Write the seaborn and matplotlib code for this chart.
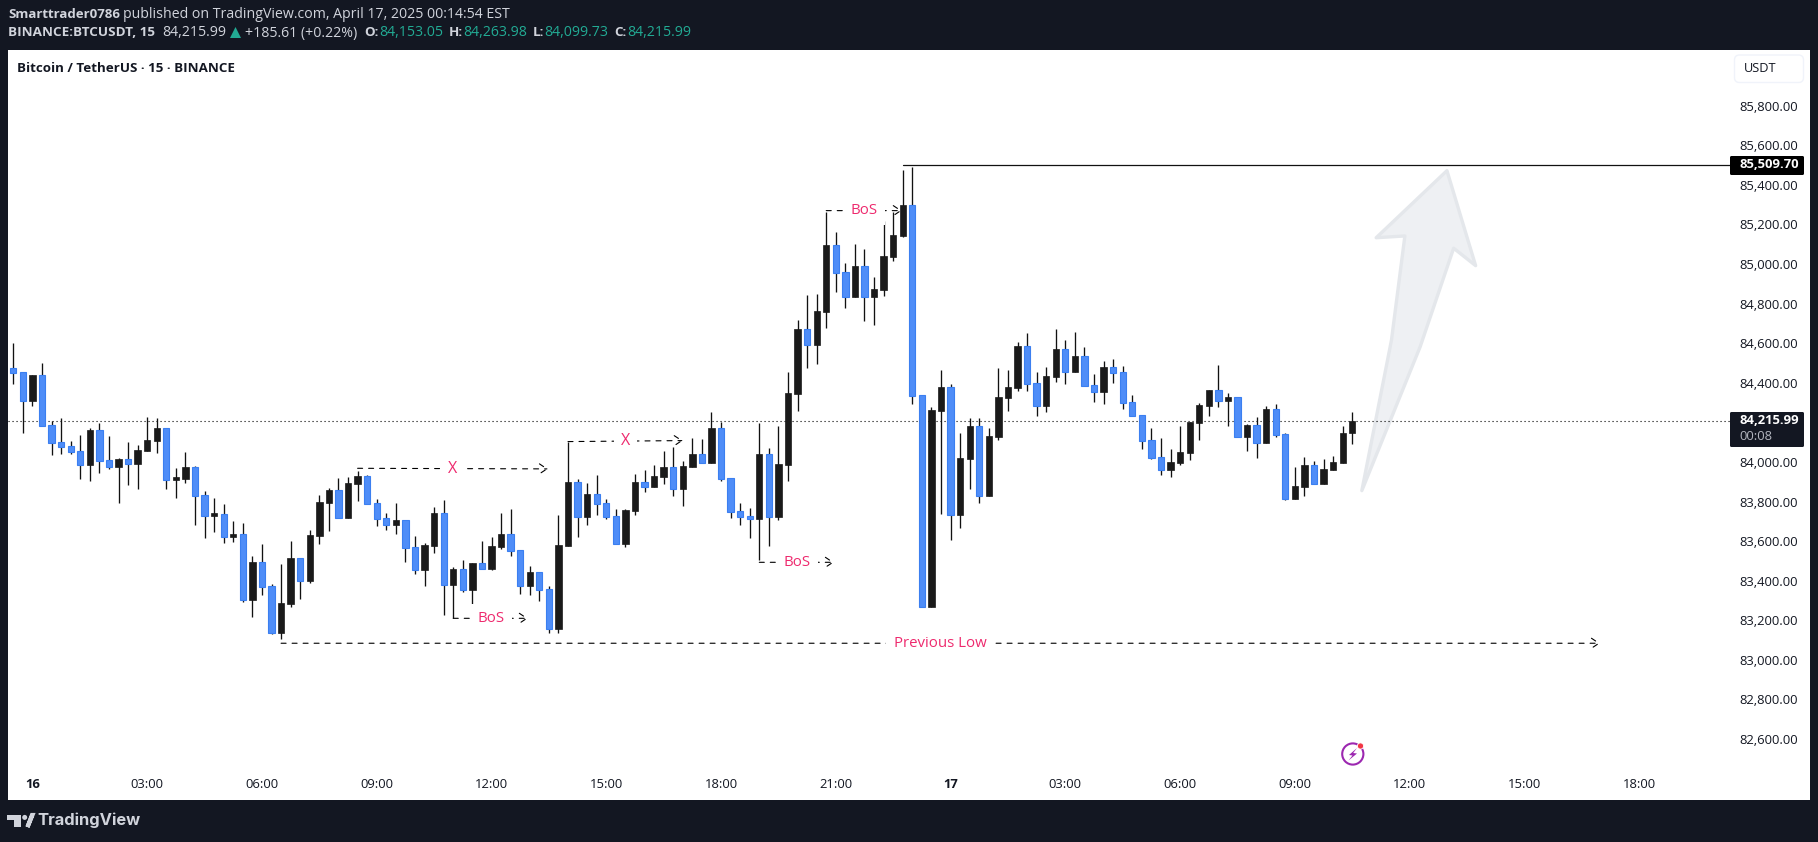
import numpy as np
import pandas as pd
import seaborn as sns
import matplotlib
matplotlib.use("Agg")
import matplotlib.pyplot as plt
from matplotlib.patches import Polygon, Circle, Rectangle, FancyBboxPatch
from matplotlib.transforms import ScaledTranslation

# ---- data -------------------------------------------------------------
opens = [84482,84462,84319,84449,84194,84109,84088,84063,83996,84169,
         84018,83986,84023,84001,84066,84117,84179,83920,83925,83982,
         83841,83738,83745,83632,83644,83314,83502,83381,83147,83293,
         83522,83410,83637,83804,83866,83728,83900,83937,83800,83725,
         83693,83714,83578,83465,83586,83750,83389,83467,83364,83497,
         83469,83580,83644,83563,83384,83452,83366,83167,83586,83906,
         83733,83846,83800,83735,83597,83763,83906,83885,83935,83982,
         83874,83986,84048,84006,84179,83927,83760,83735,83723,84048,
         83733,83996,84354,84679,84602,84769,85104,84967,84844,84998,
         84844,84880,85046,85153,85306,84346,83278,84268,84386,83743,
         84026,84190,83839,84137,84334,84385,84593,84406,84294,84440,
         84578,84465,84543,84396,84364,84487,84462,84310,84245,84119,
         84033,83970,84006,84056,84208,84294,84371,84319,84336,84137,
         84194,84107,84275,84149,83824,83884,83992,83900,83970,84006,
         84153.05]
highs = [84609,84462,84449,84508,84215,84230,84114,84144,84179,84204,
         84139,84028,84109,84093,84235,84230,84179,83977,84058,83987,
         83861,83826,83795,83709,83699,83533,83593,83391,83492,83608,
         83522,83664,83841,83876,83927,83932,83962,83942,83821,83750,
         83800,83714,83634,83598,83780,83815,83477,83512,83497,83608,
         83629,83750,83770,83563,83482,83452,83381,83740,84112,83922,
         83901,83942,83821,83770,83770,83947,83967,83992,84063,84083,
         84013,84129,84124,84260,84213,83927,83800,83775,84204,84078,
         84189,84462,84725,84851,84856,85272,85169,85013,85109,85084,
         84942,85225,85270,85483,85498,84346,84285,84472,84401,84154,
         84230,84230,84179,84482,84472,84613,84659,84462,84487,84679,
         84624,84664,84588,84452,84517,84527,84492,84346,84245,84179,
         84129,84073,84190,84213,84305,84371,84497,84356,84336,84199,
         84235,84290,84300,84154,83982,84033,84012,84023,84038,84190,
         84263.98]
lows = [84403,84157,84292,84193,84044,84050,84050,83923,83913,83954,
        83974,83802,83893,83873,84066,84055,83873,83827,83903,83691,
        83625,83655,83600,83605,83302,83226,83337,83140,83115,83277,
        83317,83398,83595,83661,83728,83728,83810,83799,83686,83666,
        83645,83504,83443,83383,83549,83236,83219,83354,83272,83470,
        83464,83570,83534,83342,83337,83307,83145,83145,83586,83630,
        83691,83741,83721,83597,83580,83741,83858,83885,83898,83837,
        83787,83986,84006,84006,83913,83726,83691,83625,83512,83585,
        83716,83913,84267,84484,84504,84688,84870,84789,84844,84721,
        84701,84849,85025,85148,84302,83278,83278,83746,83615,83676,
        83873,83802,83839,84120,84267,84370,84370,84242,84262,84415,
        84403,84465,84395,84312,84302,84410,84277,84243,84075,84024,
        83943,83933,83994,84019,84120,84242,84287,84191,84137,84065,
        84030,84107,84135,83817,83824,83837,83900,83900,83970,84006,
        84099.73]
closes = [84460,84319,84449,84193,84107,84087,84061,83996,84169,84016,
          83986,84023,84001,84068,84119,84179,83920,83928,83982,83839,
          83738,83746,83632,83645,83314,83502,83379,83147,83295,83522,
          83410,83639,83805,83866,83728,83901,83937,83799,83723,83693,
          83714,83576,83465,83588,83750,83389,83467,83364,83497,83470,
          83583,83644,83561,83384,83452,83364,83167,83588,83906,83733,
          83846,83799,83733,83597,83765,83906,83885,83937,83982,83874,
          83987,84048,84006,84179,83925,83758,83733,83723,84048,83733,
          83997,84356,84679,84602,84770,85104,84966,84844,84998,84844,
          84881,85048,85154,85306,84344,83278,84270,84386,83743,84028,
          84190,83839,84139,84336,84386,84593,84405,84294,84442,84578,
          84465,84543,84395,84364,84487,84460,84309,84243,84117,84031,
          83970,84007,84058,84210,84295,84371,84319,84336,84137,84194,
          84107,84275,84147,83824,83886,83992,83900,83972,84007,84154,
          84215.99]

price_ticks = [85800,85600,85400,85200,85000,84800,84600,84400,84000,83800,
               83600,83400,83200,83000,82800,82600]
price_tick_labels = ["85,800.00","85,600.00","85,400.00","85,200.00","85,000.00",
                     "84,800.00","84,600.00","84,400.00","84,000.00","83,800.00",
                     "83,600.00","83,400.00","83,200.00","83,000.00","82,800.00","82,600.00"]
time_ticks = [2,14,26,38,50,62,74,86,98,110,122,134,146,158,170]
time_tick_labels = ["16","03:00","06:00","09:00","12:00","15:00","18:00","21:00",
                    "17","03:00","06:00","09:00","12:00","15:00","18:00"]

last_price = 84215.99
target_price = 85509.70
# start candle, start price, end position, end price, label, label position
annotations = [
    (36, 83977, 55.9, 83974, "X", 45.9),
    (58, 84112, 70.0, 84117, "X", 64.0),
    (46, 83219, 53.8, 83219, "BoS", 50.0),
    (78, 83502, 85.8, 83502, "BoS", 82.0),
    (85, 85279, 92.9, 85279, "BoS", 89.0),
    (28, 83093, 165.9, 83093, "Previous Low", 96.9),
]
arrow_idx = [149.9, 152.9, 150.6, 147.1, 141.0, 144.1, 145.5, 142.5]
arrow_price = [85481, 85001, 85089, 84591, 83864, 84625, 85151, 85142]

# ---- style ------------------------------------------------------------
W, H = 1818, 842
BG = "#131722"
BLUE = "#4f8df8"
BLUE_EDGE = "#3b7ff0"
DARK = "#1a1a1a"
PINK = "#ee2a6e"
GREY = "#d1d4dc"
TEAL = "#22ab94"
FONT = "Open Sans"

sns.set_theme(style="white", rc={"font.family": FONT})
fig = plt.figure(figsize=(W / 100, H / 100), dpi=100, facecolor=BG)

bg = fig.add_axes([0, 0, 1, 1], zorder=0)
bg.set_xlim(0, W); bg.set_ylim(H, 0); bg.axis("off")
bg.add_patch(Rectangle((8, 50), 1802, 750, fc="white", ec="none"))

L, R, T, B = 8, 1730, 50, 769
ax = fig.add_axes([L / W, 1 - B / H, (R - L) / W, (B - T) / H], zorder=1)
ax.patch.set_alpha(0)

df = pd.DataFrame({"open": opens, "high": highs, "low": lows, "close": closes})
df["idx"] = np.arange(len(df))
df["lo"] = df[["open", "close"]].min(axis=1)
df["size"] = (df["close"] - df["open"]).abs().clip(lower=12)
up = df[df["close"] >= df["open"]]
down = df[df["close"] < df["open"]]

ax.vlines(df["idx"], df["low"], df["high"], color="#111111", lw=0.95, zorder=2)
sns.barplot(data=up, x="idx", y="size", bottom=up["lo"].to_numpy(), native_scale=True,
            color=DARK, saturation=1, width=0.66, errorbar=None, edgecolor=DARK,
            linewidth=0.5, zorder=3, ax=ax)
sns.barplot(data=down, x="idx", y="size", bottom=down["lo"].to_numpy(), native_scale=True,
            color=BLUE, saturation=1, width=0.66, errorbar=None, edgecolor=BLUE_EDGE,
            linewidth=0.8, zorder=3, ax=ax)

ax.set_xlim((L - 13.3) / 9.564, (R - 13.3) / 9.564)
ax.set_ylim(84216 - (B - 421) * 5.053, 84216 + (421 - T) * 5.053)

# projection arrow
ax.add_patch(Polygon(np.column_stack([arrow_idx, arrow_price]), closed=True,
                     fc="#eef0f3", ec="#e4e7eb", lw=2.4, joinstyle="round", zorder=1))

# current price and target lines
ax.axhline(last_price, color="#000000", lw=0.8, ls=(0, (1, 2.6)), zorder=1.5)
ax.plot([93, ax.get_xlim()[1]], [target_price, target_price], color="#111111", lw=0.9, zorder=2)

for x0, y0, x1, y1, label, lx in annotations:
    ax.annotate("", xy=(x1, y1), xytext=(x0, y0),
                arrowprops=dict(arrowstyle="->,head_length=0.45,head_width=0.3",
                                linestyle=(0, (4.5, 5.4)), lw=0.8, color="#000000",
                                shrinkA=0, shrinkB=0), zorder=2.5)
    ax.text(lx, (y0 + y1) / 2, label, color=PINK,
            fontsize=11.5 if label == "X" else 10.8, ha="center", va="center",
            bbox=dict(fc="white", ec="none", pad=5.2), zorder=2.8)

# axes and ticks
ax.set_xlabel(""); ax.set_ylabel("")
sns.despine(ax=ax, left=True, bottom=True, right=True, top=True)
ax.yaxis.tick_right()
ax.set_yticks(price_ticks, price_tick_labels)
ax.set_xticks(time_ticks, time_tick_labels)
ax.tick_params(axis="y", length=0, pad=6.4, labelsize=9.4, labelcolor="#131722", right=False)
ax.tick_params(axis="x", length=0, pad=6.6, labelsize=9.4, labelcolor="#131722", bottom=False)
ax.grid(False)
lift = ScaledTranslation(0, 1.8 / 100, fig.dpi_scale_trans)
for t in ax.get_yticklabels():
    t.set_transform(t.get_transform() + lift)
for t, s in zip(ax.get_xticklabels(), time_tick_labels):
    if s in ("16", "17"):
        t.set_fontweight("bold")

# chrome overlay, in pixel units
ov = fig.add_axes([0, 0, 1, 1], zorder=2)
ov.set_xlim(0, W); ov.set_ylim(H, 0); ov.axis("off"); ov.patch.set_alpha(0)


def txt(x, y, s, color=GREY, size=10.2, weight="normal", ha="left", **kw):
    return ov.text(x, y, s, color=color, fontsize=size, fontweight=weight, ha=ha, va="center", **kw)


txt(8, 14.7, "Smarttrader0786", weight="bold", size=9.5)
txt(123, 14.7, "published on TradingView.com, April 17, 2025 00:14:54 EST")
txt(8, 33, "BINANCE:BTCUSDT, 15", weight="bold", size=9.7)
txt(162, 33, "84,215.99")
ov.add_patch(Polygon([[230, 38], [241, 38], [235.5, 27]], closed=True, fc=TEAL, ec="none"))
txt(244.6, 33, "+185.61 (+0.22%)")
for xl, label, xv, val in [(364, "O:", 379.5, "84,153.05"), (448.7, "H:", 463, "84,263.98"),
                           (532.6, "L:", 544.6, "84,099.73"), (613.8, "C:", 627.7, "84,215.99")]:
    txt(xl, 33, label, weight="bold", size=9.6)
    txt(xv, 33, val, color=TEAL)
txt(17, 68, "Bitcoin / TetherUS · 15 · BINANCE", color="#131722", weight="bold", size=9.6)

# USDT button
ov.add_patch(FancyBboxPatch((1738, 58.5), 62, 20.5, boxstyle="round,pad=3.5,rounding_size=5",
                            fc="white", ec="#f0f3fa", lw=1))
txt(1744, 69, "USDT", color="#131722", size=9.2)

# price labels
ov.add_patch(FancyBboxPatch((1731, 157), 72, 17, boxstyle="round,pad=1,rounding_size=1.5", fc="black", ec="none"))
txt(1739, 164.5, "85,509.70", color="white", weight="bold", size=9.4)
ov.add_patch(FancyBboxPatch((1731, 413), 72, 33, boxstyle="round,pad=1,rounding_size=1.5", fc=BG, ec="none"))
txt(1739, 420.5, "84,215.99", color="white", weight="bold", size=9.4)
txt(1739, 436, "00:08", color="#b2b5be", size=9.4)

# lightning badge
ov.add_patch(Circle((1352.8, 754), 10.6, fc="none", ec="#9c27b0", lw=1.5))
ov.add_patch(Circle((1360.5, 746), 3.1, fc="#f23645", ec="white", lw=0.6, zorder=5))
ov.add_patch(Polygon([[1357, 748], [1349, 755], [1352.5, 755.5], [1348.5, 760.5],
                      [1357, 753.5], [1353.2, 753]], closed=True, fc="#9c27b0", ec="none"))

# TradingView logo
ov.add_patch(Polygon([[7, 815], [20.7, 815], [20.7, 827], [13.5, 827], [13.5, 820], [7, 820]],
                     closed=True, fc=GREY, ec="none"))
ov.add_patch(Circle((24.7, 817.4), 2.5, fc=GREY, ec="none"))
ov.add_patch(Polygon([[27.5, 827], [32, 815], [32.5, 815], [27.5, 827]], closed=True, fc=GREY, ec=GREY, lw=3))
txt(37.5, 820.5, "TradingView", size=11.9, weight="bold", family="Inter")

fig.savefig("out.png", dpi=100, facecolor=fig.get_facecolor())
